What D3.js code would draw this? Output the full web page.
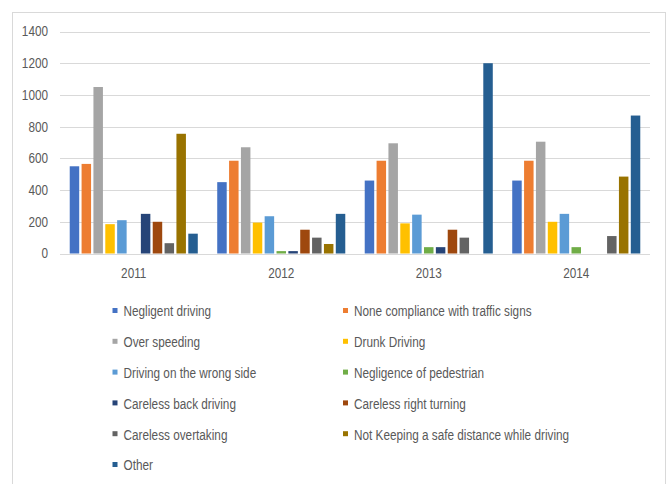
<!DOCTYPE html>
<html>
<head>
<meta charset="utf-8">
<script src="https://cdn.jsdelivr.net/npm/d3@7"></script>
<style>
  html, body { margin: 0; padding: 0; background: #fff; }
  text { font-family: "Liberation Sans", Arial, sans-serif; fill: #595959; }
</style>
</head>
<body>
<svg id="chart" width="669" height="484"></svg>
<script>
const years = ["2011", "2012", "2013", "2014"];
const seriesNames = [
  "Negligent driving",
  "None compliance with traffic signs",
  "Over speeding",
  "Drunk Driving",
  "Driving on the wrong side",
  "Negligence of pedestrian",
  "Careless back driving",
  "Careless right turning",
  "Careless overtaking",
  "Not Keeping a safe distance while driving",
  "Other"
];
const colors = ["#4472C4", "#ED7D31", "#A5A5A5", "#FFC000", "#5B9BD5", "#70AD47",
                "#264478", "#9E480E", "#636363", "#997300", "#255E91"];
// values per series, in year order 2011..2014
const negligentDriving   = [550, 450, 460, 460];
const noneCompliance     = [565, 585, 585, 585];
const overSpeeding       = [1050, 670, 695, 705];
const drunkDriving       = [185, 195, 190, 200];
const wrongSide          = [210, 235, 245, 250];
const pedestrian         = [0, 15, 40, 40];
const carelessBack       = [250, 15, 40, 0];
const carelessRight      = [200, 150, 150, 0];
const carelessOvertaking = [65, 100, 100, 110];
const notKeepingDistance = [755, 60, 0, 485];
const other              = [125, 250, 1200, 870];
const yTicks = [0, 200, 400, 600, 800, 1000, 1200, 1400];

const values = [negligentDriving, noneCompliance, overSpeeding, drunkDriving, wrongSide,
  pedestrian, carelessBack, carelessRight, carelessOvertaking, notKeepingDistance, other];

const svg = d3.select("#chart");
const hScale = 0.84;
function condense(sel) {
  sel.each(function () {
    const len = this.getComputedTextLength();
    d3.select(this).attr("textLength", len * hScale).attr("lengthAdjust", "spacingAndGlyphs");
  });
}

// outer frame
svg.append("rect").attr("x", 12.5).attr("y", 12.5).attr("width", 653).attr("height", 480)
  .attr("fill", "none").attr("stroke", "#d9d9d9").attr("stroke-width", 1);

const plot = { left: 60, right: 650, top: 31.5, bottom: 253.5 };

const x0 = d3.scaleBand().domain(years).range([plot.left, plot.right]).padding(0);
const x1 = d3.scaleBand().domain(d3.range(seriesNames.length))
  .range([0, x0.bandwidth()]).paddingInner(0.2).paddingOuter(0.82);
const y = d3.scaleLinear().domain([0, 1400]).range([plot.bottom, plot.top]);

// gridlines
svg.append("g").selectAll("line").data(yTicks).join("line")
  .attr("x1", plot.left).attr("x2", plot.right)
  .attr("y1", d => Math.round(y(d)) + 0.5).attr("y2", d => Math.round(y(d)) + 0.5)
  .attr("stroke", "#d9d9d9").attr("stroke-width", 1.2);

// y-axis labels
const yAxis = d3.axisLeft(y).tickValues(yTicks).tickFormat(d3.format("d")).tickSize(0).tickPadding(0);
const gy = svg.append("g").attr("transform", `translate(${plot.left - 12},0)`).call(yAxis);
gy.select(".domain").remove();
gy.selectAll(".tick text").style("font-size", "14px").attr("fill", "#595959")
  .style("font-family", "\"Liberation Sans\", Arial, sans-serif")
  .call(condense);

// x-axis labels
const xAxis = d3.axisBottom(x0).tickSize(0).tickPadding(0);
const gx = svg.append("g").attr("transform", `translate(0,${plot.bottom + 15})`).call(xAxis);
gx.select(".domain").remove();
gx.selectAll(".tick text").style("font-size", "14px").attr("fill", "#595959")
  .style("font-family", "\"Liberation Sans\", Arial, sans-serif")
  .call(condense);

// bars
const groups = svg.append("g").selectAll("g").data(years).join("g")
  .attr("transform", d => `translate(${x0(d)},0)`);
groups.selectAll("rect")
  .data((yr, yi) => values.map((arr, si) => ({ si, v: arr[yi] })).filter(d => d.v > 0))
  .join("rect")
  .attr("x", d => x1(d.si))
  .attr("width", x1.bandwidth())
  .attr("y", d => y(d.v))
  .attr("height", d => y(0) - y(d.v))
  .attr("fill", d => colors[d.si]);

// legend
const legend = svg.append("g");
const colX = [112.5, 343];
const rowY0 = 311.5, rowStep = 30.8;
const items = legend.selectAll("g").data(seriesNames).join("g")
  .attr("transform", (d, i) => `translate(${colX[i % 2]},${rowY0 + Math.floor(i / 2) * rowStep})`);
items.append("rect").attr("x", 0).attr("y", -3.5).attr("width", 5).attr("height", 5)
  .attr("fill", (d, i) => colors[i]);
items.append("text").attr("x", 11).attr("y", 0).attr("dy", "0.35em")
  .style("font-size", "14px").text(d => d)
  .call(condense);
</script>
</body>
</html>
